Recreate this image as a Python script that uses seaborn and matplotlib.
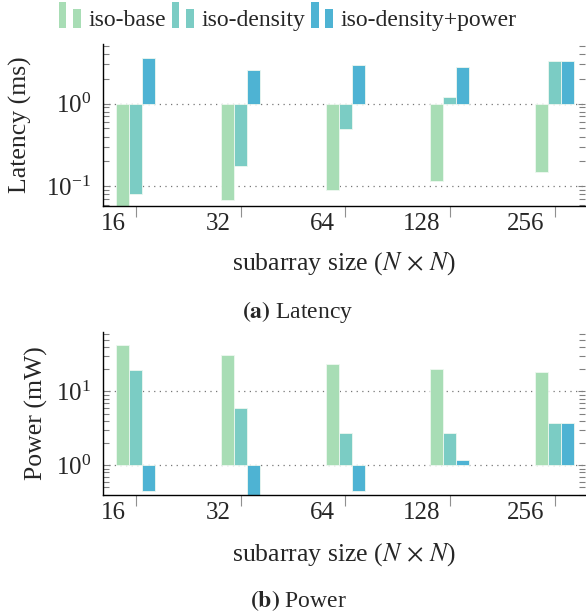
import matplotlib
matplotlib.use("Agg")
import matplotlib.pyplot as plt
import seaborn as sns
import pandas as pd
from matplotlib.patches import Rectangle
from matplotlib.legend_handler import HandlerBase
from matplotlib.transforms import ScaledTranslation

# subarray sizes (N x N) and the three designs
sizes = ["16", "32", "64", "128", "256"]
designs = ["iso-base", "iso-density", "iso-density+power"]
colors = ["#a8ddb5", "#7bccc4", "#4eb3d3"]

# latency in ms
latency_base = [0.055, 0.069, 0.091, 0.116, 0.150]
latency_density = [0.082, 0.174, 0.486, 1.19, 3.22]
latency_power = [3.56, 2.56, 2.94, 2.78, 3.22]

# power in mW
power_base = [42.4, 31.3, 23.7, 20.1, 18.5]
power_density = [19.6, 5.9, 2.77, 2.77, 3.78]
power_power = [0.45, 0.38, 0.445, 1.19, 3.78]


def long_frame(series):
    rows = []
    for name, vals in zip(designs, series):
        for s, v in zip(sizes, vals):
            # bars grow from 1.0 on the log axis
            rows.append({"size": s, "design": name, "value": v, "offset": v - 1.0})
    return pd.DataFrame(rows)


class BarPairHandler(HandlerBase):
    """pgfplots-like ybar legend image: one tall and one short bar."""

    def create_artists(self, legend, orig_handle, xdescent, ydescent,
                       width, height, fontsize, trans):
        fc = orig_handle.get_facecolor()
        w = width * 0.35
        y0 = -ydescent - 0.15 * height
        tall = Rectangle((-xdescent, y0), w, height * 1.6,
                         facecolor=fc, edgecolor="none", transform=trans)
        short = Rectangle((-xdescent + width * 0.65, y0), w, height * 1.15,
                          facecolor=fc, edgecolor="none", transform=trans)
        return [tall, short]


sns.set_style("white")
plt.rcParams["font.family"] = ["Liberation Serif", "DejaVu Serif"]
plt.rcParams["mathtext.fontset"] = "stix"

W, H = 586, 615
fig = plt.figure(figsize=(W / 100, H / 100), dpi=100)

# axes boxes in pixels: left, right, top, bottom
boxes = [(103, 585, 43.5, 206), (103, 585, 331.5, 495)]
panels = [
    (long_frame([latency_base, latency_density, latency_power]),
     "Latency (ms)", (0.058, 5.3), -0.148, -0.27, r"$\mathbf{(a)}$ Latency", 312),
    (long_frame([power_base, power_density, power_power]),
     "Power (mW)", (0.395, 65), -0.114, -0.281, r"$\mathbf{(b)}$ Power", 601),
]

for (l, r, t, b), (df, ylabel, ylim, ylx, xly, caption, cap_y) in zip(boxes, panels):
    ax = fig.add_axes([l / W, 1 - b / H, (r - l) / W, (b - t) / H])
    sns.barplot(data=df, x="size", y="offset", hue="design", palette=colors,
                saturation=1, width=0.373, gap=0, errorbar=None, bottom=1.0,
                edgecolor="#eef8f0", linewidth=0.6, legend=False, ax=ax)
    ax.set_yscale("log")
    ax.set_ylim(*ylim)
    ax.set_xlim(-0.315, 4.29)

    ax.set_axisbelow(True)
    ax.yaxis.grid(True, which="major", linestyle=(0, (1, 3.5)),
                  color="#777777", linewidth=0.9)
    ax.xaxis.grid(False)

    for side in ["top", "right"]:
        ax.spines[side].set_visible(False)
    for side in ["left", "bottom"]:
        ax.spines[side].set_color("black")
        ax.spines[side].set_linewidth(1.0)

    ax.tick_params(axis="y", which="both", direction="in", left=True, right=True,
                   color="#808080", width=0.8, labelsize=18, pad=8.5)
    ax.tick_params(axis="y", which="major", length=5)
    ax.tick_params(axis="y", which="minor", length=4)
    ax.tick_params(axis="x", which="major", direction="out", bottom=True,
                   length=8, color="#909090", width=0.8, labelsize=18, pad=-3)

    ax.set_xticks(range(len(sizes)))
    ax.set_xticklabels(sizes)
    shift = ScaledTranslation(-10 / 100, 0, fig.dpi_scale_trans)
    for lab in ax.get_xticklabels():
        lab.set_horizontalalignment("right")
        lab.set_transform(lab.get_transform() + shift)

    ax.set_ylabel(ylabel, fontsize=18.5)
    ax.yaxis.set_label_coords(ylx, 0.5)
    ax.set_xlabel(r"subarray size ($N\,\times\,N$)", fontsize=18.5)
    ax.xaxis.set_label_coords(0.5, xly)

    fig.text(298 / W, 1 - cap_y / H, caption, fontsize=17, ha="center", va="center")

handles = [Rectangle((0, 0), 1, 1, facecolor=c) for c in colors]
fig.legend(handles=handles, labels=designs, handler_map={Rectangle: BarPairHandler()},
           ncol=3, loc="upper center", bbox_to_anchor=(287.5 / W, 1 - 9 / H),
           frameon=False, fontsize=17, handlelength=0.95, handleheight=0.7,
           handletextpad=0.3, columnspacing=0.25, borderpad=0, borderaxespad=0)

fig.savefig("out.png", dpi=100)
